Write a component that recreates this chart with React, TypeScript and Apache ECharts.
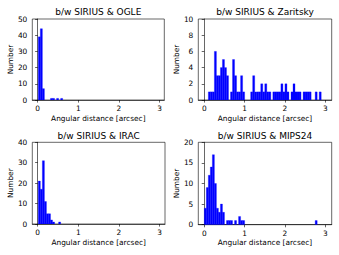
import React, { useEffect, useRef } from "react";
import * as echarts from "echarts";

// ---- data (histogram counts, bins of 0.05 arcsec) ----
const BIN_WIDTH = 0.05;
const ogleStart = 0.015;
const ogleCounts = [39, 44, 7, 0, 0, 0, 1, 1, 0, 1, 0, 1];
const zaritskyStart = 0;
const zaritskyCounts = [
  0, 0, 1, 1, 1, 6, 3, 3, 4, 5, 4, 3, 0, 1, 5, 3, 1, 1, 3, 1,
  0, 0, 0, 1, 3, 1, 1, 1, 2, 1, 2, 1, 1, 0, 1, 1, 1, 1, 2, 1,
  2, 1, 0, 1, 2, 1, 1, 1, 0, 1, 1, 1, 1, 0, 0, 1, 0, 1, 0, 0,
];
const iracStart = 0.015;
const iracCounts = [21, 17, 31, 11, 5, 5, 2, 1, 0, 0, 1];
const mipsStart = 0;
const mipsCounts = [
  4, 9, 12, 14, 17, 10, 4, 3, 5, 3, 0, 1, 1, 1, 0, 1, 0, 2, 1, 1,
  0, 0, 0, 0, 0, 0, 0, 0, 0, 0, 0, 0, 0, 0, 0, 0, 0, 0, 0, 0,
  0, 0, 0, 0, 0, 0, 0, 0, 0, 0, 0, 0, 0, 0, 0, 1,
];
const titles = [
  "b/w SIRIUS & OGLE",
  "b/w SIRIUS & Zaritsky",
  "b/w SIRIUS & IRAC",
  "b/w SIRIUS & MIPS24",
];
const xTickValues = [0, 1, 2, 3];
const yMaxes = [50, 10, 40, 20];
const ySteps = [10, 2, 10, 5];
const xLabel = "Angular distance [arcsec]";
const yLabel = "Number";

const panels = [
  { start: ogleStart, counts: ogleCounts },
  { start: zaritskyStart, counts: zaritskyCounts },
  { start: iracStart, counts: iracCounts },
  { start: mipsStart, counts: mipsCounts },
];

// ---- layout ----
const grids = [
  { left: 32.3, top: 19, width: 132, height: 81, xmin: -0.133, xmax: 3.118, yGap: 17 },
  { left: 198.3, top: 19, width: 133.4, height: 81, xmin: -0.149, xmax: 3.16, yGap: 18 },
  { left: 32.3, top: 142.3, width: 132.7, height: 81.7, xmin: -0.133, xmax: 3.135, yGap: 17 },
  { left: 198.3, top: 142.3, width: 133.4, height: 82.4, xmin: -0.149, xmax: 3.16, yGap: 18 },
];

const FONT = "DejaVu Sans";

export default function App() {
  const ref = useRef<HTMLDivElement>(null);
  useEffect(() => {
    if (!ref.current) return;
    const chart = echarts.init(ref.current, null, { renderer: "svg" });
    const axisCommon = {
      axisLine: { show: true, lineStyle: { color: "#000", width: 0.6 } },
      axisTick: { show: true, inside: false, length: 2.6, lineStyle: { color: "#000", width: 0.6 } },
      splitLine: { show: false },
    };
    const option: any = {
      animation: false,
      backgroundColor: "#fff",
      title: grids.map((g, i) => ({
        text: titles[i],
        left: g.left + g.width / 2,
        top: g.top - 11.3,
        textAlign: "center",
        padding: 0,
        textStyle: { fontSize: 9, fontWeight: "normal", fontFamily: FONT, color: "#000" },
      })),
      grid: grids.map((g) => ({
        left: g.left,
        top: g.top,
        width: g.width,
        height: g.height,
        show: true,
        borderColor: "#000",
        borderWidth: 0.6,
        backgroundColor: "transparent",
        containLabel: false,
      })),
      xAxis: grids.map((g, i) => ({
        type: "value",
        gridIndex: i,
        min: g.xmin,
        max: g.xmax,
        ...axisCommon,
        axisTick: { ...axisCommon.axisTick, customValues: xTickValues },
        axisLabel: {
          customValues: xTickValues,
          margin: 5,
          fontSize: 7.4,
          fontFamily: FONT,
          color: "#000",
          formatter: (v: number) => String(v),
        },
        name: xLabel,
        nameLocation: "middle",
        nameGap: 14.6,
        nameTextStyle: { fontSize: 7.4, fontFamily: FONT, color: "#000" },
      })),
      yAxis: grids.map((g, i) => ({
        type: "value",
        gridIndex: i,
        min: 0,
        max: yMaxes[i],
        interval: ySteps[i],
        ...axisCommon,
        axisLabel: { margin: 5, fontSize: 7.4, fontFamily: FONT, color: "#000" },
        name: yLabel,
        nameLocation: "middle",
        nameGap: g.yGap,
        nameTextStyle: { fontSize: 7.4, fontFamily: FONT, color: "#000" },
      })),
      series: panels.map((p, i) => ({
        type: "custom",
        xAxisIndex: i,
        yAxisIndex: i,
        clip: true,
        encode: { x: [0, 1], y: 2 },
        data: p.counts
          .map((c, k) => [p.start + k * BIN_WIDTH, p.start + (k + 1) * BIN_WIDTH, c])
          .filter((d) => d[2] > 0),
        renderItem: (params: any, api: any) => {
          const p0 = api.coord([api.value(0), 0]);
          const p1 = api.coord([api.value(1), api.value(2)]);
          return {
            type: "rect",
            shape: { x: p0[0], y: p1[1], width: p1[0] - p0[0], height: p0[1] - p1[1] },
            style: { fill: "#0000ff", stroke: "#0000ff", lineWidth: 0.3 },
          };
        },
      })),
    };
    chart.setOption(option);
    return () => chart.dispose();
  }, []);
  return (
    <div
      ref={ref}
      style={{ position: "fixed", left: 0, top: 0, width: 339, height: 255, background: "#fff" }}
    />
  );
}
